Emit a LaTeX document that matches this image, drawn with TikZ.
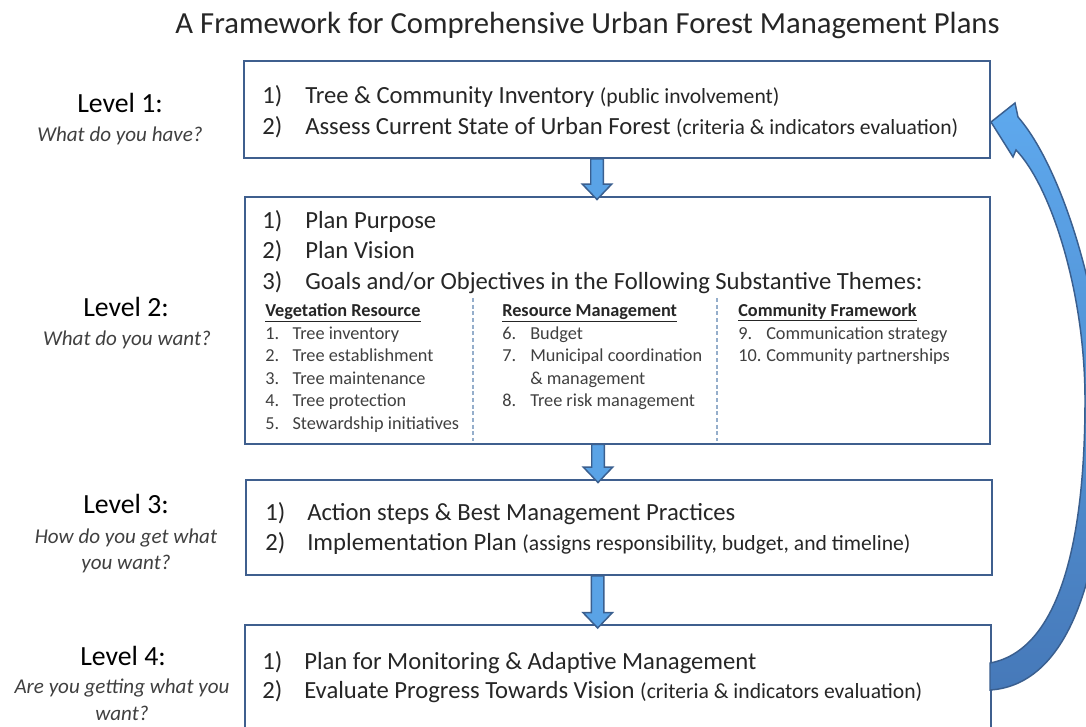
\documentclass[tikz,border=0pt]{standalone}
\usepackage{fontspec}
\setmainfont{Carlito}
\usetikzlibrary{calc}
\definecolor{boxline}{HTML}{3F5F8E}
\definecolor{arrfill}{HTML}{5AA3E6}
\definecolor{arrline}{HTML}{3A5F8F}
\definecolor{txt}{HTML}{262626}
\definecolor{itxt}{HTML}{404040}
\definecolor{dashc}{HTML}{95AECB}
\definecolor{carrtop}{HTML}{5EA9EE}
\definecolor{carrbot}{HTML}{4679B9}
\newcommand\fs[1]{\fontsize{#1}{#1}\selectfont}
\newcommand\sm[1]{{\fs{16.2}#1}}
\newcommand\nb[2]{\makebox[#1][l]{#2}}
\tikzset{
 box/.style={draw=boxline, line width=1.5pt, fill=white, inner sep=0pt, rectangle},
 lbl/.style={inner sep=0pt, anchor=base, font=\fs{20.8}, text=black},
 qst/.style={inner sep=0pt, anchor=base, font=\fs{15.8}\itshape, text=itxt},
 ttl/.style={inner sep=0pt, anchor=base, font=\fs{23}, text=txt},
 ln/.style={inner sep=0pt, anchor=base west, font=\fs{18.5}, text=txt},
 col/.style={inner sep=0pt, anchor=base west, font=\fs{13.7}, text=itxt},
 hd/.style={inner sep=0pt, anchor=base west, font=\fs{13.7}\bfseries, text=txt},
 downarr/.style={fill=arrfill, draw=arrline, line width=1.1pt, line join=miter},
 sep/.style={draw=dashc, line width=0.8pt, dash pattern=on 3pt off 2pt},
}
\newcommand\blockdown[2]{%
 \filldraw[downarr] let \p1=(#1), \p2=(#2) in
  (\x1-4.7pt,\y1) -- (\x1-4.7pt,\y2+11.5pt) -- (\x1-11pt,\y2+11.5pt) -- (\x1,\y2)
  -- (\x1+11pt,\y2+11.5pt) -- (\x1+4.7pt,\y2+11.5pt) -- (\x1+4.7pt,\y1) -- cycle;}
\begin{document}
\begin{tikzpicture}[x=0.75pt,y=-0.75pt]
\clip (0,0) rectangle (1086,726);
\fill[white] (0,0) rectangle (1086,726);

% title
\node[ttl] (title) at (587.5,33) {A Framework for Comprehensive Urban Forest Management Plans};

% boxes
\node[box, minimum width=559.5pt, minimum height=72.75pt] (b1) at (617,109.5) {};
\node[box, minimum width=558.75pt, minimum height=185.25pt] (b2) at (617.5,320) {};
\node[box, minimum width=559.5pt, minimum height=71.25pt] (b3) at (619,527.5) {};
\node[box, minimum width=559.5pt, minimum height=101.25pt] (b4) at (618,692.5) {};

% level labels
\node[lbl] (l1) at (120,112) {Level 1:};
\node[qst] (q1) at (120,141) {What do you have?};
\node[lbl] (l2) at (126,316) {Level 2:};
\node[qst] (q2) at (127,345) {What do you want?};
\node[lbl] (l3) at (126,513) {Level 3:};
\node[qst] (q3a) at (126,543) {How do you get what};
\node[qst] (q3b) at (126,569) {you want?};
\node[lbl] (l4) at (123,665) {Level 4:};
\node[qst] (q4a) at (122,693) {Are you getting what you};
\node[qst] (q4b) at (122,720) {want?};

% box 1
\node[ln] (t11) at (262,103) {\nb{32.25pt}{1)}Tree \& Community Inventory \sm{(public involvement)}};
\node[ln] (t12) at (262,134) {\nb{32.25pt}{2)}Assess Current State of Urban Forest \sm{(criteria \& indicators evaluation)}};

% box 2
\node[ln] (t21) at (262,228) {\nb{32.25pt}{1)}Plan Purpose};
\node[ln] (t22) at (262,258) {\nb{32.25pt}{2)}Plan Vision};
\node[ln] (t23) at (262,289) {\nb{32.25pt}{3)}Goals and/or Objectives in the Following Substantive Themes:};

\node[hd] (h1) at (265,316) {\underline{Vegetation Resource}};
\node[col] (c11) at (265,339) {\nb{20.5pt}{1.}Tree inventory};
\node[col] (c12) at (265,361) {\nb{20.5pt}{2.}Tree establishment};
\node[col] (c13) at (265,384) {\nb{20.5pt}{3.}Tree maintenance};
\node[col] (c14) at (265,406) {\nb{20.5pt}{4.}Tree protection};
\node[col] (c15) at (265,429) {\nb{20.5pt}{5.}Stewardship initiatives};

\node[hd] (h2) at (502,316) {\underline{Resource Management}};
\node[col] (c21) at (502,339) {\nb{21pt}{6.}Budget};
\node[col] (c22) at (502,361) {\nb{21pt}{7.}Municipal coordination};
\node[col] (c22b) at (502,384) {\nb{21pt}{}\& management};
\node[col] (c23) at (502,406) {\nb{21pt}{8.}Tree risk management};

\node[hd] (h3) at (738,316) {\underline{Community Framework}};
\node[col] (c31) at (738,339) {\nb{21pt}{9.}Communication strategy};
\node[col] (c32) at (738,361) {\nb{21pt}{10.}Community partnerships};

\coordinate (s1t) at (473,298); \coordinate (s1b) at (473,441);
\coordinate (s2t) at (717,298); \coordinate (s2b) at (717,441);
\draw[sep] (s1t) -- (s1b);
\draw[sep] (s2t) -- (s2b);

% box 3
\node[ln] (t31) at (265,520) {\nb{31.5pt}{1)}Action steps \& Best Management Practices};
\node[ln] (t32) at (265,550) {\nb{31.5pt}{2)}Implementation Plan \sm{(assigns responsibility, budget, and timeline)}};

% box 4
\node[ln] (t41) at (262,669) {\nb{31.5pt}{1)}Plan for Monitoring \& Adaptive Management};
\node[ln] (t42) at (262,698) {\nb{31.5pt}{2)}Evaluate Progress Towards Vision \sm{(criteria \& indicators evaluation)}};

% down arrows
\path (b1.south) ++(-20,0) coordinate (a1s);
\path (b2.north) ++(-20.5,4) coordinate (a1e);
\path (b2.south) ++(-19.5,0) coordinate (a2s);
\path (b3.north) ++(-20.7,3.5) coordinate (a2e);
\path (b3.south) ++(-21.3,0) coordinate (a3s);
\path (b4.north) ++(-20.5,4) coordinate (a3e);
\blockdown{a1s}{a1e}
\blockdown{a2s}{a2e}
\blockdown{a3s}{a3e}

% curved return arrow
\coordinate (ctip) at (b1.east |- 0,122);
\path[draw=arrline, line width=1.1pt, line join=miter, top color=carrtop, bottom color=carrbot]
 (990,663) .. controls (1060,650) and (1085,540) .. (1085,400)
 .. controls (1085,290) and (1050,185) .. (1016,150)
 -- (1013,157) -- (ctip) -- (1015,103) -- (1018,117)
 .. controls (1060,165) and (1100,290) .. (1105,400)
 .. controls (1108,570) and (1070,685) .. (990,690) -- cycle;
\end{tikzpicture}
\end{document}
